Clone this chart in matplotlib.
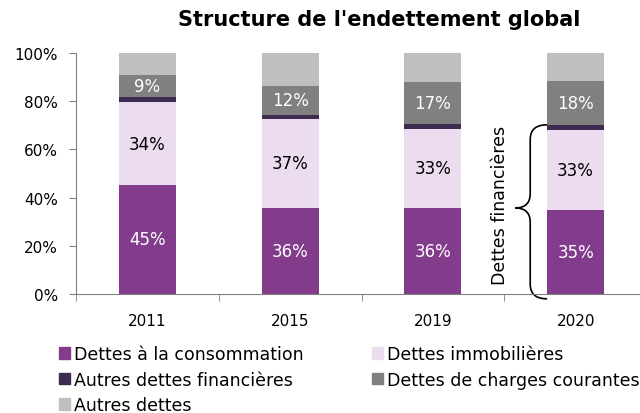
import matplotlib
matplotlib.use("Agg")
import matplotlib.pyplot as plt
from matplotlib.path import Path
from matplotlib.patches import PathPatch, Patch
import numpy as np

plt.rcParams['font.family'] = ['DejaVu Sans']

years = ["2011", "2015", "2019", "2020"]
consommation = [45.3, 35.7, 35.7, 35.0]
immobilieres = [34.2, 36.9, 32.8, 33.2]
autres_fin = [2.2, 1.7, 2.0, 2.0]
charges = [9.3, 12.1, 17.4, 18.2]
autres = [9.0, 13.6, 12.1, 11.6]
labels_cons = ["45%", "36%", "36%", "35%"]
labels_immo = ["34%", "37%", "33%", "33%"]
labels_charges = ["9%", "12%", "17%", "18%"]

series = [
    ("Dettes à la consommation", consommation, "#833C8B"),
    ("Dettes immobilières", immobilieres, "#EBDCEF"),
    ("Autres dettes financières", autres_fin, "#3F2B4F"),
    ("Dettes de charges courantes", charges, "#808080"),
    ("Autres dettes", autres, "#BFBFBF"),
]

fig = plt.figure(figsize=(6.4, 4.14), dpi=100)
ax = fig.add_axes([76/640, 1-295/414, 571/640, 241/414])
x = np.arange(len(years))
w = 0.4
bottom = np.zeros(len(years))
for name, vals, col in series:
    v = np.array(vals) / 100
    ax.bar(x, v, w, bottom=bottom, color=col, edgecolor='none')
    bottom += v

cum = np.zeros(len(years))
lab_specs = [(consommation, labels_cons, "white"), (immobilieres, labels_immo, "black")]
for vals, labs, c in lab_specs:
    for i in range(len(years)):
        ax.text(x[i], (cum[i] + vals[i]/2)/100, labs[i], ha='center', va='center',
                color=c, fontsize=12)
    cum += np.array(vals)
cum += np.array(autres_fin)
for i in range(len(years)):
    ax.text(x[i], (cum[i] + charges[i]/2)/100, labels_charges[i], ha='center', va='center',
            color='white', fontsize=12)

ax.set_xlim(-0.5, 3.5)
ax.set_ylim(0, 1)
yt = np.linspace(0, 1, 6)
ax.set_yticks(yt)
ax.set_yticklabels([f"{int(round(t*100))}%" for t in yt], fontsize=11)
ax.set_xticks(x)
ax.set_xticklabels(years, fontsize=11)
ax.set_xticks(np.arange(-0.5, 4, 1), minor=True)
ax.tick_params(axis='x', which='major', length=0, pad=14)
ax.tick_params(axis='x', which='minor', length=5, color='#808080')
ax.tick_params(axis='y', length=5, color='#808080', pad=8)
for s in ['top', 'right']:
    ax.spines[s].set_visible(False)
for s in ['left', 'bottom']:
    ax.spines[s].set_color('#808080')

# brace for "Dettes financières"
top = (consommation[3] + immobilieres[3] + autres_fin[3]) / 100
bot = -0.02
xr, xm, xt = 2.80, 2.682, 2.577
ymid = 0.357
r = 0.06
verts = [(xr, top), (xm, top), (xm, top - r),
         (xm, ymid + r), (xm, ymid), (xt, ymid),
         (xm, ymid), (xm, ymid - r),
         (xm, bot + r), (xm, bot), (xr, bot)]
codes = [Path.MOVETO, Path.CURVE3, Path.CURVE3,
         Path.LINETO, Path.CURVE3, Path.CURVE3,
         Path.CURVE3, Path.CURVE3,
         Path.LINETO, Path.CURVE3, Path.CURVE3]
ax.add_patch(PathPatch(Path(verts, codes), fc='none', ec='black', lw=1.2, clip_on=False))
ax.text(2.471, 0.37, "Dettes financières", rotation=90, ha='center', va='center', fontsize=12.5)

fig.text(379/640, 1-20/414, "Structure de l'endettement global", ha='center', va='center',
         fontsize=15, fontweight='bold')

order = [0, 2, 4, 1, 3]
handles = [Patch(color=series[i][2]) for i in order]
lbls = [series[i][0] for i in order]
fig.legend(handles, lbls, loc='upper left', bbox_to_anchor=(59/640, 1-346/414), ncol=2,
           frameon=False, fontsize=12.5, handlelength=0.63, handleheight=0.63,
           handletextpad=0.25, columnspacing=3.9, labelspacing=0.44, borderaxespad=0,
           borderpad=0)

fig.savefig("out.png", dpi=100)
